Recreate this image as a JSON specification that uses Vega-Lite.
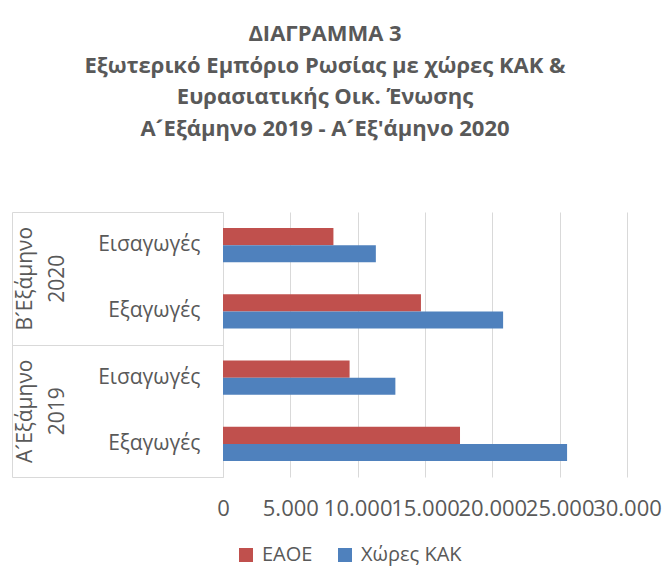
{
  "$schema": "https://vega.github.io/schema/vega-lite/v6.json",
  "autosize": "none",
  "width": 404,
  "height": 265,
  "padding": {"left": 223, "top": 212, "right": 38, "bottom": 109},
  "background": "white",
  "config": {
    "view": {"stroke": null},
    "font": "Open Sans",
    "axis": {"labelColor": "#595959", "labelFont": "Open Sans"},
    "legend": {"labelFont": "Open Sans"}
  },
  "title": {
    "text": ["ΔΙΑΓΡΑΜΜΑ 3", "Εξωτερικό Εμπόριο Ρωσίας με χώρες ΚΑΚ &", "Ευρασιατικής Οικ. Ένωσης", "Α´Εξάμηνο 2019 - Α´Εξ'άμηνο 2020"],
    "anchor": "middle",
    "frame": "group",
    "dx": -100,
    "offset": 49,
    "baseline": "bottom",
    "lineHeight": 31.5,
    "font": "Open Sans",
    "fontSize": 22,
    "fontWeight": "bold",
    "color": "#595959"
  },
  "data": {
    "values": [
      {"group": "Β´Εξάμηνο 2020", "type": "Εισαγωγές", "cat": "B2020-Εισαγωγές", "series": "ΕΑΟΕ", "value": 8200},
      {"group": "Β´Εξάμηνο 2020", "type": "Εισαγωγές", "cat": "B2020-Εισαγωγές", "series": "Χώρες ΚΑΚ", "value": 11350},
      {"group": "Β´Εξάμηνο 2020", "type": "Εξαγωγές", "cat": "B2020-Εξαγωγές", "series": "ΕΑΟΕ", "value": 14700},
      {"group": "Β´Εξάμηνο 2020", "type": "Εξαγωγές", "cat": "B2020-Εξαγωγές", "series": "Χώρες ΚΑΚ", "value": 20800},
      {"group": "Α´Εξάμηνο 2019", "type": "Εισαγωγές", "cat": "A2019-Εισαγωγές", "series": "ΕΑΟΕ", "value": 9400},
      {"group": "Α´Εξάμηνο 2019", "type": "Εισαγωγές", "cat": "A2019-Εισαγωγές", "series": "Χώρες ΚΑΚ", "value": 12800},
      {"group": "Α´Εξάμηνο 2019", "type": "Εξαγωγές", "cat": "A2019-Εξαγωγές", "series": "ΕΑΟΕ", "value": 17600},
      {"group": "Α´Εξάμηνο 2019", "type": "Εξαγωγές", "cat": "A2019-Εξαγωγές", "series": "Χώρες ΚΑΚ", "value": 25550}
    ]
  },
  "layer": [
    {
      "mark": {"type": "bar"},
      "encoding": {
        "y": {
          "field": "cat",
          "type": "nominal",
          "sort": ["B2020-Εισαγωγές", "B2020-Εξαγωγές", "A2019-Εισαγωγές", "A2019-Εξαγωγές"],
          "scale": {"paddingInner": 0.48, "paddingOuter": 0.24},
          "axis": {
            "title": null,
            "labelExpr": "split(datum.label, '-')[1]",
            "ticks": false,
            "tickSize": 0,
            "labelPadding": 23,
            "labelFontSize": 21,
            "domain": true,
            "domainColor": "#d9d9d9",
            "domainWidth": 1,
            "grid": false
          }
        },
        "yOffset": {
          "field": "series",
          "type": "nominal",
          "sort": ["ΕΑΟΕ", "Χώρες ΚΑΚ"],
          "scale": {"paddingInner": 0, "paddingOuter": 0}
        },
        "x": {
          "field": "value",
          "type": "quantitative",
          "scale": {"domain": [0, 30000], "nice": false},
          "axis": {
            "title": null,
            "values": [0, 5000, 10000, 15000, 20000, 25000, 30000],
            "labelExpr": "replace(format(datum.value, ',d'), ',', '.')",
            "labelFontSize": 22,
            "labelPadding": 21.5,
            "labelOverlap": false,
            "labelBound": false,
            "labelFlush": false,
            "domain": false,
            "ticks": false,
            "grid": true,
            "gridColor": "#d9d9d9",
            "gridWidth": 1
          }
        },
        "color": {
          "field": "series",
          "type": "nominal",
          "sort": ["ΕΑΟΕ", "Χώρες ΚΑΚ"],
          "scale": {"range": ["#C0504D", "#4F81BD"]},
          "legend": {
            "title": null,
            "orient": "none",
            "direction": "horizontal",
            "legendX": 13,
            "legendY": 333,
            "padding": 0,
            "symbolType": "square",
            "symbolSize": 196,
            "symbolStrokeWidth": 0,
            "labelFontSize": 20,
            "labelColor": "#595959",
            "labelOffset": 6,
            "columnPadding": 22
          }
        }
      }
    },
    {
      "mark": {"type": "bar", "opacity": 0},
      "encoding": {
        "y": {
          "field": "group",
          "type": "nominal",
          "sort": ["Β´Εξάμηνο 2020", "Α´Εξάμηνο 2019"],
          "scale": {"paddingInner": 0, "paddingOuter": 0},
          "axis": {
            "title": null,
            "orient": "left",
            "offset": 211,
            "domain": true,
            "domainColor": "#d9d9d9",
            "ticks": true,
            "tickBand": "extent",
            "tickSize": -211,
            "tickColor": "#d9d9d9",
            "labelAngle": -90,
            "labelAlign": "center",
            "labelBaseline": "top",
            "labelPadding": 209,
            "labelFontSize": 21,
            "labelLineHeight": 32,
            "labelExpr": "split(datum.label, ' ')",
            "labelOverlap": false,
            "labelBound": false,
            "labelFlush": false,
            "grid": false
          }
        },
        "x": {"field": "value", "type": "quantitative"}
      }
    }
  ],
  "resolve": {"scale": {"y": "independent"}, "axis": {"y": "independent"}}
}
